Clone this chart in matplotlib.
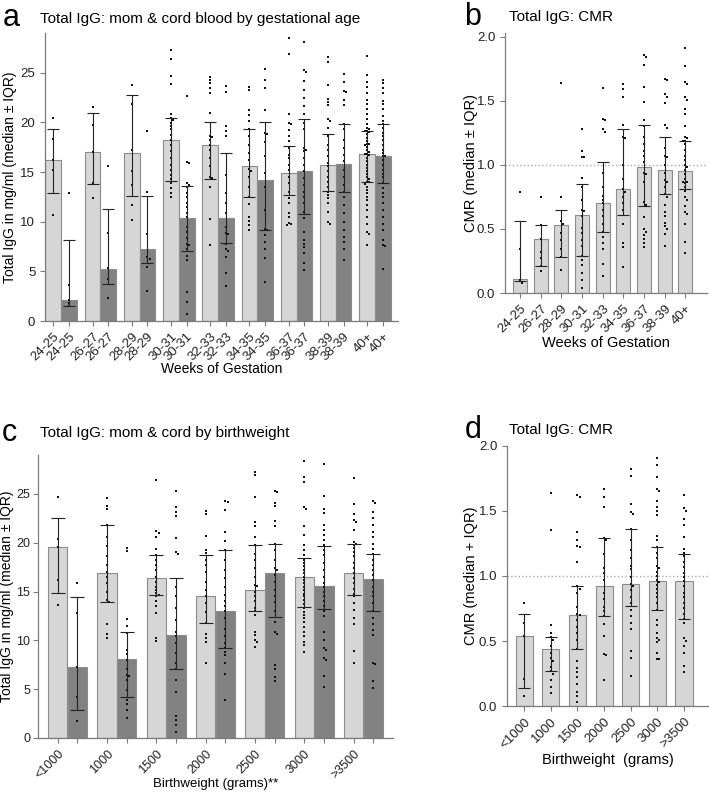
import numpy as np
import matplotlib
matplotlib.use('Agg')
import matplotlib.pyplot as plt

plt.rcParams['font.family'] = ['Liberation Sans', 'DejaVu Sans']

# ---------------- panel a: mom & cord by gestational age ----------------
ga_groups = ['24-25', '26-27', '28-29', '30-31', '32-33', '34-35', '36-37', '38-39', '40+']
ga_mom_med = [16.2, 17.0, 16.9, 18.2, 17.7, 15.6, 14.9, 15.7, 16.8]
ga_mom_q1 = [12.9, 13.8, 12.6, 14.1, 14.3, 12.5, 12.7, 13.1, 14.0]
ga_mom_q3 = [19.3, 20.9, 22.8, 20.4, 20.0, 19.3, 17.6, 18.8, 19.1]
ga_cord_med = [2.1, 5.2, 7.3, 10.4, 10.4, 14.2, 15.1, 15.8, 16.6]
ga_cord_q1 = [1.5, 3.7, 5.8, 7.0, 7.9, 9.2, 10.8, 13.0, 13.9]
ga_cord_q3 = [8.2, 11.3, 12.6, 13.6, 16.9, 20.0, 20.3, 19.8, 19.8]

ga_mom_pts = [
    [20.4, 18.3, 16.2, 15.2, 10.7],
    [21.5, 19.7, 17.0, 13.9, 12.4],
    [23.8, 21.9, 17.2, 15.1, 13.7, 11.7, 10.2],
    [27.3, 26.4, 24.7, 23.9, 20.8, 20.4, 20.2, 19.9, 19.6, 19.3, 18.7, 18.2, 17.7, 17.1,
     16.4, 15.7, 15.2, 14.7, 14.3, 13.9, 13.4, 12.9, 12.5],
    [24.6, 24.3, 24.0, 23.5, 23.0, 20.9, 18.6, 18.5, 18.2, 17.7, 17.2, 16.4, 15.6, 14.5,
     14.4, 13.5, 10.3, 7.7],
    [23.6, 23.3, 21.2, 20.7, 20.1, 19.3, 18.6, 17.7, 16.9, 16.2, 15.3, 15.1, 14.5, 13.5,
     12.5, 11.8, 10.5, 10.1, 9.7, 9.2],
    [28.5, 26.9, 20.8, 19.9, 19.8, 19.2, 18.6, 18.1, 17.4, 16.7, 16.4, 15.7, 15.2, 14.5,
     13.9, 13.0, 12.4, 11.9, 10.9, 10.5, 9.9, 9.8, 9.7],
    [26.6, 26.1, 23.8, 22.4, 22.1, 21.7, 20.3, 20.1, 19.4, 18.6, 17.7, 17.2, 16.6, 15.9,
     15.6, 15.1, 14.5, 14.0, 13.5, 13.0, 12.7, 12.4, 11.9, 11.0, 10.0, 9.8],
    [26.7, 24.8, 24.1, 23.6, 23.0, 22.3, 21.8, 21.3, 20.8, 20.3, 19.8, 19.4, 19.3, 19.1,
     19.1, 19.0, 18.8, 18.4, 18.1, 17.8, 17.8, 17.7, 17.5, 17.2, 17.0, 16.8, 16.8, 16.7,
     16.4, 16.1, 15.7, 15.4, 15.1, 14.8, 14.5, 14.3, 14.0, 14.0, 13.8, 13.5, 13.2, 12.9,
     12.5, 12.2, 11.7, 11.2, 10.5, 9.8, 9.0, 8.8, 7.7],
]
ga_cord_pts = [
    [12.9, 3.6, 2.1, 1.8, 1.5],
    [15.6, 8.9, 5.3, 4.2, 2.3],
    [19.1, 13.0, 8.8, 6.4, 6.2, 5.4, 3.0],
    [22.7, 16.0, 15.9, 13.9, 13.7, 13.5, 12.9, 12.5, 11.9, 11.5, 10.9, 10.5, 9.5, 9.0,
     8.4, 7.8, 7.7, 7.2, 6.5, 6.1, 2.9, 1.9, 0.7],
    [23.7, 23.1, 19.6, 19.1, 18.6, 14.7, 12.9, 11.9, 10.9, 9.5, 8.9, 8.8, 7.8, 7.2, 7.0,
     6.4, 4.8, 3.5],
    [25.4, 24.3, 23.5, 21.2, 18.9, 18.8, 18.0, 16.6, 14.9, 13.5, 11.2, 9.3, 9.2, 8.7, 8.0,
     7.2, 6.3, 3.9],
    [28.1, 25.3, 25.1, 24.2, 23.3, 22.5, 21.6, 20.8, 19.9, 19.3, 17.4, 17.2, 17.1, 16.4,
     15.7, 15.1, 14.4, 13.7, 13.0, 12.5, 11.9, 11.0, 10.4, 9.0, 8.2, 7.8, 7.5, 6.8, 5.8, 5.1],
    [24.9, 24.1, 23.2, 23.1, 22.3, 21.7, 19.8, 19.3, 18.2, 17.4, 16.7, 16.1, 15.2, 14.5,
     13.7, 13.0, 12.5, 11.7, 10.9, 10.0, 9.2, 8.5, 8.0, 7.3, 6.1],
    [24.3, 24.0, 23.5, 23.0, 22.2, 21.8, 21.3, 20.6, 20.1, 19.8, 19.4, 18.9, 18.6, 18.2,
     17.7, 17.2, 16.9, 16.6, 16.6, 16.2, 15.7, 15.2, 14.8, 14.5, 13.9, 13.4, 12.9, 12.5,
     11.9, 11.2, 10.5, 9.8, 9.2, 8.2, 7.7, 7.6, 5.2],
]

# ---------------- panel b: CMR by gestational age ----------------
cmr_ga_med = [0.11, 0.42, 0.53, 0.61, 0.70, 0.81, 0.98, 0.96, 0.955]
cmr_ga_q1 = [0.09, 0.21, 0.28, 0.29, 0.48, 0.61, 0.68, 0.77, 0.81]
cmr_ga_q3 = [0.565, 0.53, 0.65, 0.85, 1.02, 1.28, 1.31, 1.22, 1.19]
cmr_ga_pts = [
    [0.79, 0.34, 0.10, 0.08],
    [0.75, 0.53, 0.42, 0.32, 0.27, 0.21, 0.17],
    [1.64, 0.75, 0.56, 0.54, 0.47, 0.41, 0.34, 0.28, 0.18],
    [1.28, 1.11, 1.06, 1.06, 0.90, 0.83, 0.73, 0.65, 0.64, 0.60, 0.51, 0.47, 0.41, 0.37,
     0.29, 0.26, 0.22, 0.16, 0.10, 0.04],
    [1.60, 1.36, 1.35, 1.28, 1.26, 0.94, 0.83, 0.76, 0.73, 0.70, 0.65, 0.60, 0.54, 0.48,
     0.44, 0.39, 0.34, 0.23, 0.13],
    [1.63, 1.59, 1.53, 1.31, 1.22, 1.21, 1.00, 0.89, 0.81, 0.79, 0.75, 0.70, 0.65, 0.54,
     0.39, 0.36, 0.20],
    [1.86, 1.84, 1.78, 1.61, 1.49, 1.35, 1.30, 1.22, 1.16, 1.11, 1.07, 1.02, 0.94, 0.93,
     0.87, 0.71, 0.69, 0.59, 0.50, 0.48, 0.45, 0.42, 0.39, 0.36],
    [1.67, 1.66, 1.55, 1.53, 1.48, 1.31, 1.29, 1.13, 1.07, 1.06, 1.00, 0.94, 0.88, 0.87,
     0.83, 0.77, 0.75, 0.69, 0.63, 0.60, 0.55, 0.52, 0.50, 0.46, 0.37],
    [1.91, 1.77, 1.65, 1.63, 1.53, 1.51, 1.44, 1.40, 1.30, 1.22, 1.21, 1.19, 1.19, 1.16,
     1.12, 1.07, 1.04, 1.00, 0.98, 0.96, 0.93, 0.89, 0.87, 0.87, 0.86, 0.83, 0.80, 0.75,
     0.73, 0.68, 0.63, 0.62, 0.54, 0.40, 0.31],
]

# ---------------- panel c: mom & cord by birthweight ----------------
bw_groups = ['<1000', '1000', '1500', '2000', '2500', '3000', '>3500']
bw_mom_med = [19.6, 16.9, 16.4, 14.5, 15.2, 16.5, 16.9]
bw_mom_q1 = [14.9, 13.9, 14.7, 11.8, 13.0, 13.4, 14.6]
bw_mom_q3 = [22.5, 21.8, 18.7, 18.7, 19.8, 18.4, 19.9]
bw_cord_med = [7.3, 8.1, 10.5, 13.0, 16.9, 15.6, 16.3]
bw_cord_q1 = [2.9, 4.2, 7.1, 9.2, 12.4, 13.2, 13.0]
bw_cord_q3 = [14.4, 10.9, 16.4, 19.3, 19.9, 19.7, 18.9]

bw_mom_pts = [
    [24.7, 20.4, 19.6, 16.2, 13.6],
    [24.6, 23.8, 23.5, 21.8, 20.6, 19.7, 18.6, 17.7, 17.0, 16.5, 15.9, 15.0, 14.1, 13.9,
     11.7, 10.7, 10.2],
    [26.4, 21.2, 21.0, 20.6, 19.4, 18.7, 18.2, 17.7, 17.2, 16.5, 16.0, 15.5, 15.2, 14.9,
     14.7, 14.5, 14.0, 13.5, 12.8, 10.2, 9.9],
    [23.3, 22.9, 20.7, 19.3, 19.0, 18.2, 17.7, 17.0, 16.0, 15.2, 14.5, 13.8, 12.9, 11.8,
     10.7, 10.2, 9.8, 7.7],
    [27.3, 26.9, 24.7, 22.1, 21.7, 20.6, 19.8, 18.9, 18.2, 17.4, 16.5, 15.7, 15.6, 15.0,
     14.5, 14.0, 13.3, 13.0, 12.6, 10.9, 10.6, 10.0, 9.8, 9.3],
    [28.4, 26.7, 26.2, 23.7, 23.5, 21.7, 20.8, 19.8, 19.3, 18.7, 18.2, 17.9, 17.6, 17.2,
     16.9, 16.5, 16.2, 15.9, 15.5, 15.2, 14.8, 14.5, 14.1, 13.7, 13.3, 12.9, 12.6, 12.3,
     11.9, 11.4, 10.9, 10.4, 9.8, 9.5, 8.8],
    [26.6, 24.0, 23.0, 22.3, 22.1, 21.3, 20.1, 19.9, 19.8, 19.5, 19.1, 18.6, 17.9, 17.4,
     16.9, 16.4, 15.9, 15.3, 14.8, 14.5, 13.8, 13.1, 12.3, 11.7, 8.9, 7.7],
]
bw_cord_pts = [
    [15.9, 12.8, 7.3, 4.2, 1.7],
    [19.5, 19.2, 12.2, 11.5, 10.8, 9.0, 8.6, 8.0, 7.1, 6.5, 6.3, 5.9, 4.9, 3.9, 3.5, 2.9, 2.0],
    [25.3, 23.7, 23.2, 22.7, 20.5, 19.1, 18.9, 15.5, 14.5, 13.3, 12.1, 10.9, 10.4, 9.7,
     8.7, 7.7, 7.1, 5.9, 4.7, 2.2, 1.8, 1.3, 0.6],
    [24.3, 24.2, 23.4, 21.1, 20.2, 19.3, 18.2, 17.2, 16.4, 15.5, 14.7, 14.0, 13.5, 13.0,
     12.3, 11.2, 10.4, 9.7, 9.2, 8.8, 8.5, 7.7, 6.6, 3.9],
    [25.3, 25.2, 24.1, 23.8, 22.2, 21.7, 19.9, 19.3, 18.2, 17.4, 17.2, 16.7, 16.0, 15.2,
     14.5, 13.9, 13.0, 11.9, 10.9, 10.7, 7.5, 7.1, 6.2, 5.8],
    [28.1, 24.8, 23.5, 23.1, 21.8, 21.3, 20.8, 20.3, 19.8, 19.3, 18.7, 17.9, 17.2, 16.5,
     15.9, 15.5, 15.0, 14.5, 14.0, 13.5, 13.0, 12.5, 10.9, 10.0, 9.2, 9.0, 8.2, 8.0, 6.3, 5.2],
    [24.3, 24.1, 23.2, 22.5, 21.8, 21.1, 20.6, 19.9, 19.4, 18.9, 18.2, 17.7, 17.2, 16.7,
     16.2, 15.5, 15.0, 14.5, 13.8, 13.0, 12.3, 11.7, 11.1, 10.6, 7.7, 7.6, 5.8, 5.1],
]

# ---------------- panel d: CMR by birthweight ----------------
cmr_bw_med = [0.54, 0.44, 0.70, 0.92, 0.94, 0.96, 0.96]
cmr_bw_q1 = [0.14, 0.27, 0.44, 0.69, 0.77, 0.74, 0.67]
cmr_bw_q3 = [0.71, 0.53, 0.92, 1.29, 1.36, 1.22, 1.17]
cmr_bw_pts = [
    [0.79, 0.64, 0.54, 0.21, 0.08],
    [1.64, 1.35, 0.62, 0.56, 0.53, 0.51, 0.46, 0.41, 0.37, 0.35, 0.30, 0.27, 0.25, 0.20,
     0.15, 0.10],
    [1.62, 1.61, 1.34, 1.28, 1.23, 1.22, 1.11, 0.92, 0.90, 0.87, 0.76, 0.71, 0.70, 0.66,
     0.61, 0.56, 0.51, 0.44, 0.35, 0.29, 0.26, 0.22, 0.17, 0.11, 0.08, 0.03],
    [1.67, 1.61, 1.53, 1.29, 1.28, 1.17, 1.06, 1.02, 0.97, 0.87, 0.82, 0.76, 0.73, 0.69,
     0.63, 0.54, 0.40, 0.39, 0.20],
    [1.82, 1.77, 1.55, 1.49, 1.48, 1.36, 1.28, 1.20, 1.14, 1.08, 1.05, 0.99, 0.94, 0.92,
     0.89, 0.84, 0.79, 0.74, 0.69, 0.64, 0.59, 0.42, 0.37, 0.23],
    [1.91, 1.85, 1.76, 1.67, 1.65, 1.58, 1.53, 1.50, 1.47, 1.31, 1.28, 1.22, 1.18, 1.14,
     1.08, 1.06, 1.03, 1.00, 0.97, 0.95, 0.93, 0.90, 0.87, 0.84, 0.79, 0.74, 0.66, 0.62,
     0.56, 0.52, 0.51, 0.49, 0.41, 0.36, 0.36],
    [1.62, 1.52, 1.50, 1.44, 1.39, 1.30, 1.21, 1.18, 1.15, 1.11, 1.07, 1.02, 0.99, 0.96,
     0.92, 0.87, 0.84, 0.79, 0.75, 0.71, 0.67, 0.64, 0.52, 0.50, 0.46, 0.41, 0.31, 0.26],
]

MOM_C = '#d6d6d6'
CORD_C = '#828282'
EDGE_C = '#8c8c8c'
SPINE_C = '#7a7a7a'


def swarm_x(vals, center, dx, tol):
    # simple beeswarm: shift points sideways when they overlap vertically
    placed = []
    xs = []
    for v in vals:
        for o in [0, 1, -1, 2, -2, 3, -3, 4, -4]:
            if all(not (abs(v - pv) < tol and po == o) for pv, po in placed):
                break
        placed.append((v, o))
        xs.append(center + o * dx)
    return xs


def style_axes(ax):
    for s in ['top', 'right']:
        ax.spines[s].set_visible(False)
    for s in ['left', 'bottom']:
        ax.spines[s].set_color(SPINE_C)
        ax.spines[s].set_linewidth(0.9)
    ax.tick_params(axis='both', colors=SPINE_C, labelcolor='#222222', length=3.5,
                   width=0.8, labelsize=9.5)


def draw_group(ax, x, med, q1, q3, pts, color, width, dx, tol, cap):
    ax.bar(x, med, width=width, color=color, edgecolor=EDGE_C, linewidth=0.8, zorder=1)
    ax.scatter(swarm_x(pts, x, dx, tol), pts, s=3.5, c='#111111', marker='s',
               linewidths=0, zorder=3)
    ax.errorbar(x, med, yerr=[[med - q1], [q3 - med]], fmt='none', ecolor='#222222',
                elinewidth=0.8, capsize=cap, capthick=0.8, zorder=4)


fig = plt.figure(figsize=(7.09, 7.93), dpi=100)

# ---- a ----
ax_a = fig.add_axes([0.0635, 0.5952, 0.4979, 0.3632])
style_axes(ax_a)
ticks_a, labels_a = [], []
for i, g in enumerate(ga_groups):
    xm, xc = 2.5 * i, 2.5 * i + 1
    draw_group(ax_a, xm, ga_mom_med[i], ga_mom_q1[i], ga_mom_q3[i], ga_mom_pts[i],
               MOM_C, 1.0, 0.13, 0.28, 4.5)
    draw_group(ax_a, xc, ga_cord_med[i], ga_cord_q1[i], ga_cord_q3[i], ga_cord_pts[i],
               CORD_C, 1.0, 0.13, 0.28, 4.5)
    ticks_a += [xm, xc]
    labels_a += [g, g]
ax_a.set_xticks(ticks_a)
ax_a.set_xticklabels(labels_a, rotation=45, ha='right', rotation_mode='anchor', fontsize=9.5)
ax_a.set_xlim(-0.53, 21.97)
ax_a.set_ylim(0, 29)
ax_a.set_yticks([0, 5, 10, 15, 20, 25])
ax_a.set_ylabel('Total IgG in mg/ml (median ± IQR)', fontsize=10)
ax_a.yaxis.set_label_coords(-0.079, 0.5)
ax_a.set_xlabel('Weeks of Gestation', fontsize=10)
ax_a.xaxis.set_label_coords(0.5, -0.142)

# ---- b ----
ax_b = fig.add_axes([0.7123, 0.6305, 0.2849, 0.3279])
style_axes(ax_b)
for i in range(len(ga_groups)):
    draw_group(ax_b, i, cmr_ga_med[i], cmr_ga_q1[i], cmr_ga_q3[i], cmr_ga_pts[i],
               MOM_C, 0.68, 0.09, 0.022, 4)
ax_b.axhline(1.0, color='#aaaaaa', linestyle=':', linewidth=1.0, zorder=2)
ax_b.set_xticks(range(len(ga_groups)))
ax_b.set_xticklabels(ga_groups, rotation=45, ha='right', rotation_mode='anchor', fontsize=9.5)
ax_b.set_xlim(-0.73, 9.05)
ax_b.set_ylim(0, 2.03)
ax_b.set_yticks([0.0, 0.5, 1.0, 1.5, 2.0])
ax_b.set_yticklabels(['0.0', '0.5', '1.0', '1.5', '2.0'])
ax_b.set_ylabel('CMR (median ± IQR)', fontsize=10.5)
ax_b.yaxis.set_label_coords(-0.135, 0.5)
ax_b.set_xlabel('Weeks of Gestation', fontsize=10.5)
ax_b.xaxis.set_label_coords(0.5, -0.165)

# ---- c ----
ax_c = fig.add_axes([0.0536, 0.0694, 0.5007, 0.3569])
style_axes(ax_c)
ax_c.tick_params(axis='y', pad=2, labelsize=9)
ticks_c, labels_c = [], []
for i, g in enumerate(bw_groups):
    xm, xc = 2.5 * i, 2.5 * i + 1
    draw_group(ax_c, xm, bw_mom_med[i], bw_mom_q1[i], bw_mom_q3[i], bw_mom_pts[i],
               MOM_C, 0.98, 0.11, 0.28, 5)
    draw_group(ax_c, xc, bw_cord_med[i], bw_cord_q1[i], bw_cord_q3[i], bw_cord_pts[i],
               CORD_C, 0.98, 0.11, 0.28, 5)
    ticks_c += [xm, xc]
    labels_c += [g, '']
ax_c.set_xticks(ticks_c)
ax_c.set_xticklabels(labels_c, rotation=45, ha='right', rotation_mode='anchor', fontsize=9)
ax_c.set_xlim(-1.0, 17.0)
ax_c.set_ylim(0, 29)
ax_c.set_yticks([0, 5, 10, 15, 20, 25])
ax_c.set_ylabel('Total IgG in mg/ml (median ± IQR)', fontsize=10)
ax_c.yaxis.set_label_coords(-0.068, 0.5)
ax_c.set_xlabel('Birthweight (grams)**', fontsize=9.5)
ax_c.xaxis.set_label_coords(0.5, -0.141)

# ---- d ----
ax_d = fig.add_axes([0.7151, 0.1097, 0.2835, 0.3279])
style_axes(ax_d)
for i in range(len(bw_groups)):
    draw_group(ax_d, i, cmr_bw_med[i], cmr_bw_q1[i], cmr_bw_q3[i], cmr_bw_pts[i],
               MOM_C, 0.64, 0.08, 0.022, 4)
ax_d.axhline(1.0, color='#aaaaaa', linestyle=':', linewidth=1.0, zorder=2)
ax_d.set_xticks(range(len(bw_groups)))
ax_d.set_xticklabels(bw_groups, rotation=45, ha='right', rotation_mode='anchor', fontsize=9.5)
ax_d.set_xlim(-0.64, 6.9)
ax_d.set_ylim(0, 2.0)
ax_d.set_yticks([0.0, 0.5, 1.0, 1.5, 2.0])
ax_d.set_yticklabels(['0.0', '0.5', '1.0', '1.5', '2.0'])
ax_d.set_ylabel('CMR (median + IQR)', fontsize=10.5)
ax_d.yaxis.set_label_coords(-0.145, 0.5)
ax_d.set_xlabel('Birthweight  (grams)', fontsize=10.5)
ax_d.xaxis.set_label_coords(0.5, -0.18)

# panel letters and titles
fig.text(0.004, 0.977, 'a', fontsize=22, va='center', ha='left')
fig.text(0.056, 0.976, 'Total IgG: mom & cord blood by gestational age', fontsize=11, va='center')
fig.text(0.655, 0.979, 'b', fontsize=22, va='center', ha='left')
fig.text(0.718, 0.979, 'Total IgG: CMR', fontsize=11, va='center')
fig.text(0.002, 0.454, 'c', fontsize=22, va='center', ha='left')
fig.text(0.056, 0.454, 'Total IgG: mom & cord by birthweight', fontsize=11, va='center')
fig.text(0.655, 0.458, 'd', fontsize=22, va='center', ha='left')
fig.text(0.718, 0.458, 'Total IgG: CMR', fontsize=11, va='center')

fig.savefig('out.png', dpi=100)
